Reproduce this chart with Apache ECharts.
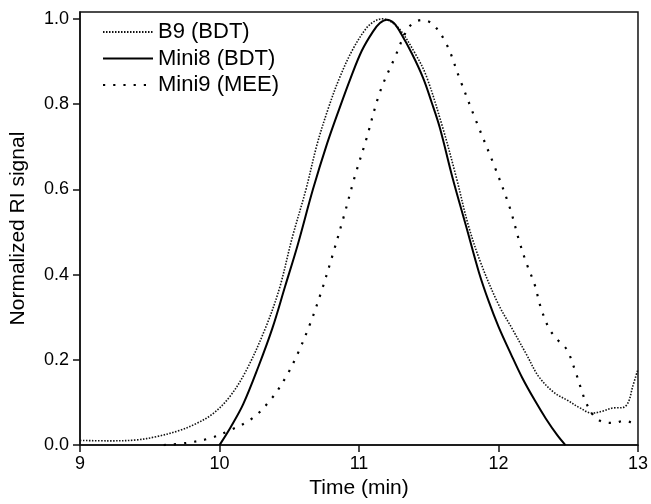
<!DOCTYPE html>
<html>
<head>
<meta charset="utf-8">
<script src="https://cdn.jsdelivr.net/npm/echarts@6/dist/echarts.min.js"></script>
<style>
html,body{margin:0;padding:0;background:#fff;}
#c{width:651px;height:504px;}
</style>
</head>
<body>
<div id="c"></div>
<script>
// ---- data ----
const seriesNames = ['B9 (BDT)', 'Mini8 (BDT)', 'Mini9 (MEE)'];

const b9Time = [9.00, 9.20, 9.40, 9.55, 9.71, 9.83, 9.95, 10.07, 10.19, 10.33, 10.43, 10.52, 10.62, 10.70, 10.78, 10.86, 10.95, 11.05, 11.11, 11.17, 11.23, 11.30, 11.40, 11.48, 11.60, 11.70, 11.78, 11.87, 12.00, 12.10, 12.20, 12.29, 12.40, 12.50, 12.58, 12.67, 12.75, 12.82, 12.89, 12.93, 12.96, 13.00];
const b9Signal = [0.011, 0.010, 0.012, 0.020, 0.034, 0.050, 0.073, 0.112, 0.174, 0.275, 0.368, 0.485, 0.600, 0.706, 0.790, 0.861, 0.925, 0.977, 0.994, 1.000, 0.993, 0.972, 0.920, 0.868, 0.745, 0.625, 0.520, 0.430, 0.330, 0.272, 0.213, 0.160, 0.123, 0.104, 0.088, 0.075, 0.080, 0.087, 0.088, 0.100, 0.135, 0.178];

const mini8Time = [10.00, 10.08, 10.17, 10.28, 10.38, 10.47, 10.56, 10.67, 10.77, 10.86, 10.94, 11.02, 11.10, 11.15, 11.20, 11.25, 11.30, 11.38, 11.46, 11.52, 11.58, 11.67, 11.77, 11.86, 11.93, 12.00, 12.09, 12.17, 12.26, 12.34, 12.42, 12.48];
const mini8Signal = [0.000, 0.042, 0.096, 0.185, 0.275, 0.372, 0.469, 0.600, 0.706, 0.790, 0.861, 0.925, 0.970, 0.990, 0.998, 0.990, 0.966, 0.918, 0.861, 0.805, 0.744, 0.628, 0.511, 0.405, 0.337, 0.278, 0.213, 0.158, 0.105, 0.062, 0.024, 0.000];

const mini9Time = [9.60, 9.76, 9.92, 10.07, 10.24, 10.38, 10.48, 10.56, 10.65, 10.73, 10.81, 10.89, 10.97, 11.05, 11.15, 11.25, 11.36, 11.45, 11.53, 11.63, 11.72, 11.84, 11.97, 12.08, 12.15, 12.20, 12.26, 12.30, 12.36, 12.42, 12.49, 12.55, 12.60, 12.63, 12.68, 12.75, 12.83, 12.90, 12.98, 13.00];
const mini9Signal = [0.000, 0.005, 0.015, 0.034, 0.064, 0.112, 0.162, 0.214, 0.285, 0.360, 0.445, 0.535, 0.630, 0.715, 0.828, 0.904, 0.981, 0.997, 0.987, 0.939, 0.861, 0.760, 0.655, 0.558, 0.477, 0.427, 0.376, 0.326, 0.275, 0.248, 0.224, 0.174, 0.124, 0.098, 0.070, 0.054, 0.052, 0.057, 0.052, 0.052];

const xTicks = [9, 10, 11, 12, 13];
const yTicks = [0, 0.2, 0.4, 0.6, 0.8, 1.0];

function pairs(t, v) { return t.map((x, i) => [x, v[i]]); }

const FONT = 'Liberation Sans, Arial, Helvetica, sans-serif';
const chart = echarts.init(document.getElementById('c'), null, { renderer: 'canvas' });

chart.setOption({
  animation: false,
  backgroundColor: '#fff',
  textStyle: { fontFamily: FONT, color: '#000' },
  grid: { left: 79, right: 11, top: 12, bottom: 56, show: true, borderColor: '#111', borderWidth: 1.5, backgroundColor: 'transparent' },
  legend: {
    orient: 'vertical',
    left: 97,
    top: 16,
    itemWidth: 50,
    itemHeight: 20,
    itemGap: 4.5,
    itemStyle: { opacity: 0, borderWidth: 0 },
    textStyle: { fontFamily: FONT, fontSize: 22, color: '#000' },
    data: seriesNames
  },
  xAxis: {
    type: 'value',
    min: 9, max: 13, interval: 1,
    name: 'Time (min)',
    nameLocation: 'middle',
    nameGap: 32,
    nameTextStyle: { fontFamily: FONT, fontSize: 21, color: '#000' },
    axisLine: { show: true, lineStyle: { color: '#111', width: 1.5 } },
    axisTick: { show: true, inside: false, length: 7, lineStyle: { color: '#111', width: 1.5 }, customValues: xTicks },
    axisLabel: { fontFamily: FONT, fontSize: 18, color: '#000', margin: 10, customValues: xTicks },
    splitLine: { show: false }
  },
  yAxis: {
    type: 'value',
    min: 0, max: 1.016,
    name: 'Normalized RI signal',
    nameLocation: 'middle',
    nameGap: 51,
    nameTextStyle: { fontFamily: FONT, fontSize: 21, color: '#000' },
    axisLine: { show: true, lineStyle: { color: '#111', width: 1.5 } },
    axisTick: { show: true, inside: false, length: 7, lineStyle: { color: '#111', width: 1.5 }, customValues: yTicks },
    axisLabel: { fontFamily: FONT, fontSize: 18, color: '#000', margin: 11, customValues: yTicks, formatter: v => v.toFixed(1) },
    splitLine: { show: false }
  },
  series: [
    {
      name: seriesNames[0], type: 'line', data: pairs(b9Time, b9Signal),
      symbol: 'none', showSymbol: false, smooth: 0.35,
      lineStyle: { color: '#111', width: 1.6, type: [1.5, 1.5] },
      itemStyle: { color: '#111' }
    },
    {
      name: seriesNames[1], type: 'line', data: pairs(mini8Time, mini8Signal),
      symbol: 'none', showSymbol: false, smooth: 0.35,
      lineStyle: { color: '#000', width: 2, type: 'solid' },
      itemStyle: { color: '#000' }
    },
    {
      name: seriesNames[2], type: 'line', data: pairs(mini9Time, mini9Signal),
      symbol: 'none', showSymbol: false, smooth: 0.35,
      lineStyle: { color: '#000', width: 2.2, type: [2.2, 8] },
      itemStyle: { color: '#000' }
    }
  ]
});
</script>
</body>
</html>
